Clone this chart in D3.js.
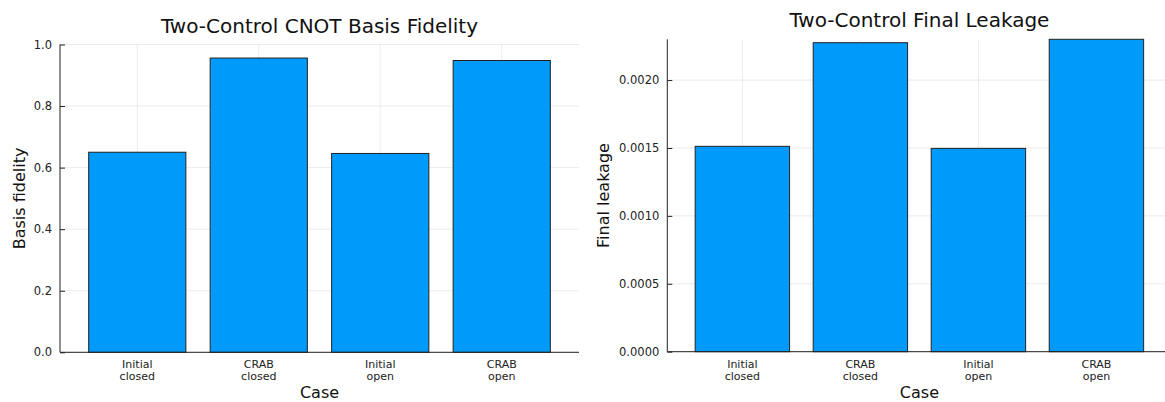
<!DOCTYPE html>
<html><head><meta charset="utf-8">
<script src="https://cdn.jsdelivr.net/npm/d3@7"></script>
<style>body{margin:0;background:#fff}svg{display:block;font-family:"DejaVu Sans",sans-serif}</style>
</head><body><svg id="c" width="1165" height="402"></svg>
<script>
const categories = [["Initial","closed"],["CRAB","closed"],["Initial","open"],["CRAB","open"]];
const fidelity = [0.650, 0.956, 0.646, 0.948];
const leakage = [0.001512, 0.002275, 0.001497, 0.002300];
const fidelityTicks = [0, 0.2, 0.4, 0.6, 0.8, 1.0];
const leakageTicks = [0, 0.0005, 0.0010, 0.0015, 0.0020];

const svg = d3.select("#c");
const panels = [
  {title:"Two-Control CNOT Basis Fidelity", ylab:"Basis fidelity", values:fidelity, ticks:fidelityTicks, fmt:d3.format(".1f"),
   x0:60, x1:579, y0:352.3, y1:44.5, ymax:1.0, titleY:33, ylabX:25},
  {title:"Two-Control Final Leakage", ylab:"Final leakage", values:leakage, ticks:leakageTicks, fmt:d3.format(".4f"),
   x0:667.3, x1:1171.5, y0:351.7, y1:39.3, ymax:0.0023, titleY:27, ylabX:609}
];
const keys = categories.map(c => c.join(" "));
panels.forEach(p => {
  const g = svg.append("g");
  const x = d3.scaleBand().domain(keys).range([p.x0, p.x1]).paddingInner(0.2).paddingOuter(0.236);
  const y = d3.scaleLinear().domain([0, p.ymax]).range([p.y0, p.y1]);
  // grid
  g.append("g").selectAll("line").data(p.ticks).join("line")
    .attr("x1", p.x0).attr("x2", p.x1).attr("y1", d=>y(d)).attr("y2", d=>y(d))
    .attr("stroke", "#000").attr("stroke-opacity", 0.08).attr("stroke-width", 1);
  g.append("g").selectAll("line").data(keys).join("line")
    .attr("x1", d=>x(d)+x.bandwidth()/2).attr("x2", d=>x(d)+x.bandwidth()/2).attr("y1", p.y0).attr("y2", p.y1)
    .attr("stroke", "#000").attr("stroke-opacity", 0.08).attr("stroke-width", 1);
  // bars
  g.append("g").selectAll("rect").data(p.values).join("rect")
    .attr("x", (d,i)=>x(keys[i])).attr("width", x.bandwidth())
    .attr("y", d=>y(d)).attr("height", d=>p.y0 - y(d))
    .attr("fill", "#009afa").attr("stroke", "#222").attr("stroke-width", 1);
  // axes
  const ya = g.append("g").attr("transform", `translate(${p.x0},0)`)
    .call(d3.axisLeft(y).tickValues(p.ticks).tickFormat(p.fmt).tickSize(-5).tickPadding(8));
  ya.select(".domain").attr("d", `M0,${p.y0}V${p.y1}`);
  ya.selectAll("text").attr("font-size", 11.5).attr("fill", "#222").attr("font-family", "DejaVu Sans");
  ya.selectAll("line, path").attr("stroke", "#222");
  const xa = g.append("g").attr("transform", `translate(0,${p.y0})`)
    .call(d3.axisBottom(x).tickSize(0).tickFormat(""));
  xa.select(".domain").attr("d", `M${p.x0},0H${p.x1}`).attr("stroke", "#222");
  xa.selectAll(".tick").each(function(d, i){
    const t = d3.select(this).append("text").attr("fill", "#222").attr("font-size", 11)
      .attr("text-anchor", "middle").attr("font-family", "DejaVu Sans");
    categories[i].forEach((line, j) => t.append("tspan").attr("x", 0).attr("y", 16 + j*12).text(line));
  });
  // labels
  const cx = (p.x0 + p.x1) / 2;
  g.append("text").attr("x", cx).attr("y", p.titleY).attr("text-anchor", "middle")
    .attr("font-size", 20).attr("fill", "#111").text(p.title);
  g.append("text").attr("x", cx).attr("y", 398).attr("text-anchor", "middle")
    .attr("font-size", 16).attr("fill", "#111").text("Case");
  g.append("text").attr("transform", `translate(${p.ylabX},${(p.y0+p.y1)/2}) rotate(-90)`)
    .attr("text-anchor", "middle").attr("font-size", 16).attr("fill", "#111").text(p.ylab);
});
</script></body></html>
